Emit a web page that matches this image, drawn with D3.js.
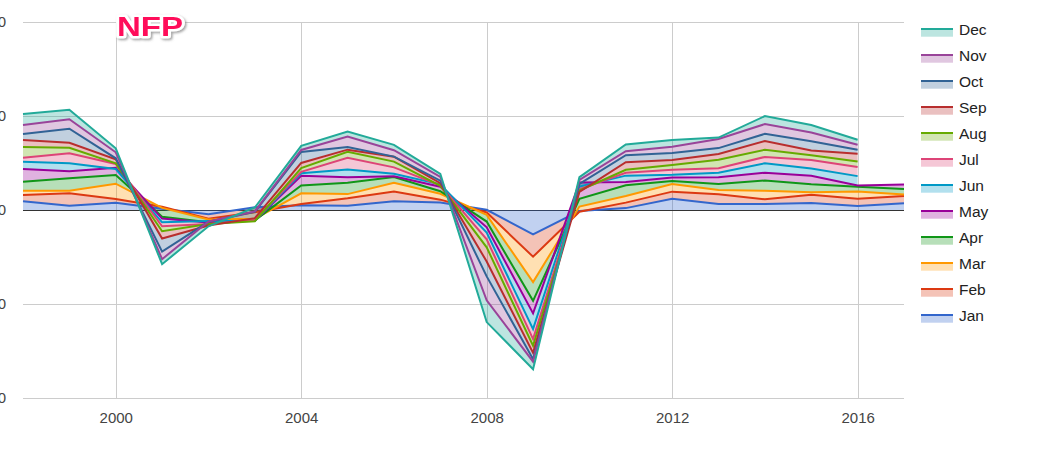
<!DOCTYPE html>
<html><head><meta charset="utf-8">
<script src="https://cdn.jsdelivr.net/npm/d3@7"></script>
<style>
body{margin:0;background:#fff;}
svg{display:block;font-family:Arial,"Liberation Sans",sans-serif;}
</style>
</head><body>
<svg id="c" width="1038" height="449"></svg>
<script>
// ---------- data (monthly NFP change, thousands) ----------
const years = [1998,1999,2000,2001,2002,2003,2004,2005,2006,2007,2008,2009,2010,2011,2012,2013,2014,2015,2016,2017];
const months = ["Jan","Feb","Mar","Apr","May","Jun","Jul","Aug","Sep","Oct","Nov","Dec"];
const colors = ["#3366cc","#dc3912","#ff9900","#109618","#990099","#0099c6","#dd4477","#66aa00","#b82e2e","#316395","#994499","#22aa99"];

const jan = [278,137,233,42,-134,89,150,134,277,240,8,-780,-34,60,360,190,190,221,126,216];
const feb = [201,396,118,61,-147,-159,43,239,315,90,-85,-710,-19,175,226,311,151,265,237,232];
const mar = [137,83,488,-36,-24,-213,338,134,280,189,-78,-810,164,212,243,135,272,84,225,50];
const apr = [287,396,278,-281,-85,-49,250,363,182,79,-214,-600,243,345,96,192,329,251,153,174];
const may = [406,223,233,-60,-7,-9,310,175,23,143,-182,-400,522,105,110,218,246,273,43,138];
const jun = [232,255,-41,-120,46,-2,81,245,77,78,-172,-500,-130,200,88,146,304,228,297,null];
const jul = [128,320,159,-125,-96,25,47,373,207,-33,-210,-320,-86,90,160,140,202,277,291,null];
const aug = [342,178,22,-160,1,-42,122,196,184,-16,-259,-210,-37,95,150,269,230,150,176,null];
const sep = [223,160,128,-230,-51,101,160,67,157,85,-452,-230,-43,245,161,185,280,149,249,null];
const oct = [192,447,32,-420,120,200,351,84,2,82,-474,-200,257,220,225,189,227,295,124,null];
const nov = [287,300,192,-240,9,15,64,337,204,118,-765,-80,123,130,203,291,312,280,164,null];
const dec = [351,306,127,-160,-153,124,132,159,171,97,-694,-240,88,215,214,45,255,239,155,null];

const xTicks = [2000,2004,2008,2012,2016];
const yTicks = [-6000,-3000,0,3000,6000];
const title = "NFP";

// ---------- build ----------
const series = [jan,feb,mar,apr,may,jun,jul,aug,sep,oct,nov,dec];
const table = years.map((yr,i)=>{const r={year:yr}; months.forEach((m,j)=>{r[m]=series[j][i];}); return r;});
const stacked = d3.stack().keys(months).value((d,k)=>d[k]===null?0:d[k]).offset(d3.stackOffsetNone)(table);

const L=23, R=904, T=22, B=398;
const x = d3.scaleLinear().domain([1998,2017]).range([L,R]);
const y = d3.scaleLinear().domain([-6000,6000]).range([B,T]);

const svg = d3.select("#c");

// gridlines + y labels
const gy = svg.append("g").attr("transform",`translate(${L},0)`)
  .call(d3.axisLeft(y).tickValues(yTicks).tickSize(-(R-L)).tickPadding(17).tickFormat(d3.format("d")));
gy.select(".domain").remove();
gy.selectAll("line").attr("stroke","#cccccc").attr("shape-rendering","crispEdges");
gy.selectAll("text").attr("fill","#444").style("font-size","15px").attr("font-family",null);

// vertical gridlines + x labels
const gx = svg.append("g").attr("transform",`translate(0,${B})`)
  .call(d3.axisBottom(x).tickValues(xTicks).tickSize(-(B-T)).tickPadding(14).tickFormat(d3.format("d")));
gx.select(".domain").remove();
gx.selectAll("line").attr("stroke","#cccccc").attr("shape-rendering","crispEdges");
gx.selectAll("text").attr("fill","#444").style("font-size","15px").attr("font-family",null);

// baseline
svg.append("line").attr("x1",L).attr("x2",R).attr("y1",y(0)).attr("y2",y(0))
  .attr("stroke","#333").attr("stroke-width",1).attr("shape-rendering","crispEdges");

const gs = svg.append("g");
stacked.forEach((s,i)=>{
  const key = s.key;
  const area = d3.area().defined(d=>d.data[key]!==null)
    .x(d=>x(d.data.year)).y0(d=>y(d[0])).y1(d=>y(d[1]));
  gs.append("path").attr("d",area(s)).attr("fill",colors[i]).attr("fill-opacity",0.3);
});
stacked.forEach((s,i)=>{
  const key = s.key;
  const line = d3.line().defined(d=>d.data[key]!==null)
    .x(d=>x(d.data.year)).y(d=>y(d[1]));
  gs.append("path").attr("d",line(s)).attr("fill","none").attr("stroke",colors[i]).attr("stroke-width",2)
    .attr("stroke-linejoin","miter");
});

// legend (Dec on top)
const lg = svg.append("g");
months.slice().reverse().forEach((m,k)=>{
  const i = months.length-1-k;
  const yy = 29 + 26*k;
  lg.append("rect").attr("x",921).attr("y",yy+0.7).attr("width",32).attr("height",7)
    .attr("fill",colors[i]).attr("fill-opacity",0.3);
  lg.append("rect").attr("x",921).attr("y",yy-1).attr("width",32).attr("height",2).attr("fill",colors[i]);
  lg.append("text").attr("x",959).attr("y",yy+6).attr("fill","#222").style("font-size","15.5px").text(m);
});

// title
const defs = svg.append("defs");
const f = defs.append("filter").attr("id","sh").attr("x","-20%").attr("y","-20%").attr("width","140%").attr("height","150%");
f.append("feDropShadow").attr("dx",1.5).attr("dy",1.5).attr("stdDeviation",1).attr("flood-color","#888").attr("flood-opacity",0.8);
svg.append("text").attr("x",117).attr("y",36).text(title)
  .attr("font-weight","bold").style("font-size","27px")
  .attr("textLength",66).attr("lengthAdjust","spacingAndGlyphs")
  .attr("fill","#ff0d5a").attr("stroke","#fff").attr("stroke-width",5).attr("paint-order","stroke")
  .attr("stroke-linejoin","round").attr("filter","url(#sh)");
</script>
</body></html>
